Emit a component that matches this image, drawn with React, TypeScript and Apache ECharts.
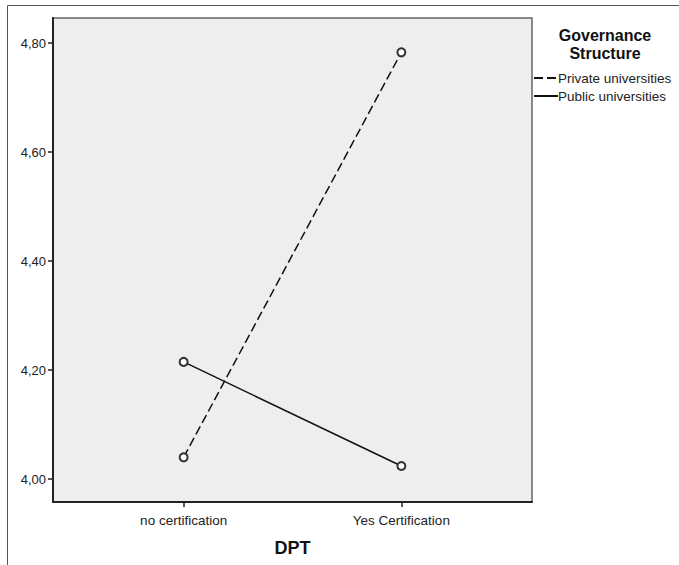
import React, { useEffect, useRef } from "react";
import * as echarts from "echarts";

const categories = ["no certification", "Yes Certification"];
const privateValues = [4.04, 4.783];
const publicValues = [4.215, 4.024];
const yTicks = [4.0, 4.2, 4.4, 4.6, 4.8];
const seriesNames = ["Private universities", "Public universities"];

export default function App() {
  const ref = useRef<HTMLDivElement>(null);
  useEffect(() => {
    if (!ref.current) return;
    const chart = echarts.init(ref.current, null, { renderer: "svg" });
    const font = "'Liberation Sans', Arial, sans-serif";
    const toPts = (vals: number[]) => vals.map((v, i) => [i, v]);
    chart.setOption({
      animation: false,
      backgroundColor: "#ffffff",
      textStyle: { fontFamily: font },
      graphic: [
        {
          type: "rect",
          shape: { x: 7.5, y: 5.5, width: 700, height: 600 },
          style: { fill: "none", stroke: "#555", lineWidth: 1 },
          silent: true,
          z: -1,
        },
        {
          type: "text",
          x: 605,
          y: 26,
          style: {
            text: "Governance\nStructure",
            font: "bold 16px 'Liberation Sans', Arial, sans-serif",
            fill: "#111",
            align: "center",
            lineHeight: 18,
          },
        },
      ],
      legend: {
        orient: "vertical",
        left: 533,
        top: 71,
        padding: 0,
        itemWidth: 24,
        itemHeight: 12,
        itemGap: 4,
        itemStyle: { opacity: 0 },
        textStyle: { fontSize: 13.5, color: "#222", fontFamily: font, padding: [0, 0, 0, -5] },
        data: seriesNames,
      },
      grid: {
        left: 53,
        top: 18,
        right: 147,
        bottom: 63,
        show: true,
        backgroundColor: "#eeeeee",
        borderColor: "#666",
        borderWidth: 1.5,
      },
      xAxis: {
        type: "value",
        min: -0.6,
        max: 1.6,
        name: "DPT",
        nameLocation: "middle",
        nameGap: 37,
        nameTextStyle: { fontSize: 18, fontWeight: "bold", color: "#111", fontFamily: font },
        axisLine: { show: true, onZero: false, lineStyle: { color: "#222", width: 2 } },
        axisTick: { show: true, customValues: [0, 1], length: 5, lineStyle: { color: "#222", width: 1.5 } },
        axisLabel: {
          customValues: [0, 1],
          margin: 11,
          fontSize: 13.5,
          color: "#222",
          formatter: (v: number) => categories[Math.round(v)] ?? "",
        },
        splitLine: { show: false },
      },
      yAxis: {
        type: "value",
        min: 3.958,
        max: 4.846,
        axisLine: { show: true, onZero: false, lineStyle: { color: "#222", width: 2 } },
        axisTick: { show: true, customValues: yTicks, length: 5, lineStyle: { color: "#222", width: 1.5 } },
        axisLabel: {
          customValues: yTicks,
          margin: 7,
          fontSize: 13,
          color: "#222",
          formatter: (v: number) => v.toFixed(2).replace(".", ","),
        },
        splitLine: { show: false },
      },
      series: [
        {
          name: seriesNames[0],
          type: "line",
          data: toPts(privateValues),
          symbol: "emptyCircle",
          symbolSize: 8,
          lineStyle: { color: "#111", width: 1.5, type: [9, 4] },
          itemStyle: { color: "#333", borderColor: "#333", borderWidth: 1.2 },
        },
        {
          name: seriesNames[1],
          type: "line",
          data: toPts(publicValues),
          symbol: "emptyCircle",
          symbolSize: 8,
          lineStyle: { color: "#111", width: 1.5, type: "solid" },
          itemStyle: { color: "#333", borderColor: "#333", borderWidth: 1.2 },
        },
      ],
    });
    return () => chart.dispose();
  }, []);
  return (
    <div
      ref={ref}
      style={{ position: "fixed", left: 0, top: 0, width: 679, height: 565 }}
    />
  );
}
